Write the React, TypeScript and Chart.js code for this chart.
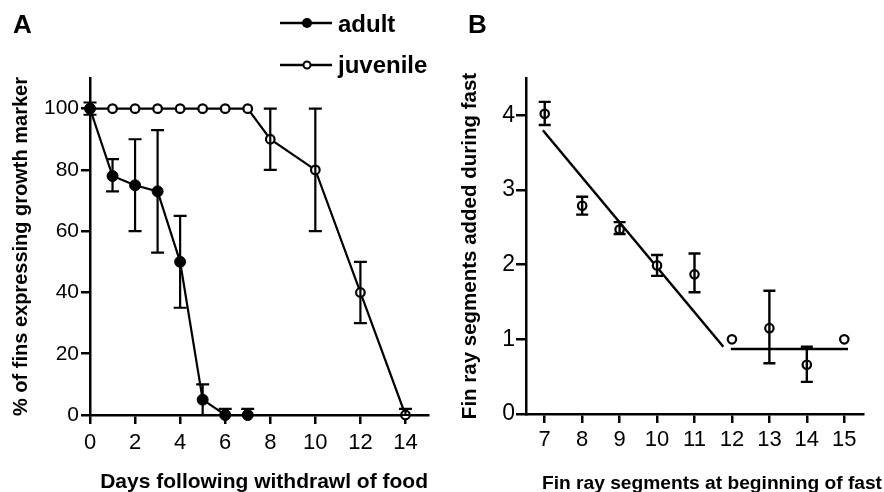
import React, { useEffect, useRef } from 'react';
import { Chart, registerables } from 'chart.js';

Chart.register(...registerables);

// ---------- Panel A data ----------
const daysAdult = [0, 1, 2, 3, 4, 5, 6, 7];
const adultPct = [100, 78, 75, 73, 50, 5, 0, 0];
const adultLow = [98, 73, 60, 53, 35, 0, 0, 0];
const adultHigh = [102, 83.5, 90, 93, 65, 10, 2, 2];

const daysJuvenile = [0, 1, 2, 3, 4, 5, 6, 7, 8, 10, 12, 14];
const juvenilePct = [100, 100, 100, 100, 100, 100, 100, 100, 90, 80, 40, 0];
const juvenileLow = [null, null, null, null, null, null, null, null, 80, 60, 30, 0];
const juvenileHigh = [null, null, null, null, null, null, null, null, 100, 100, 50, 2];

const xTicksA = [0, 2, 4, 6, 8, 10, 12, 14];
const yTicksA = [0, 20, 40, 60, 80, 100];

// ---------- Panel B data ----------
const segmentsStart = [7, 8, 9, 10, 11, 12, 13, 14, 15];
const segmentsAdded = [4.02, 2.79, 2.47, 1.99, 1.87, 1.0, 1.15, 0.66, 1.0];
const addedLow = [3.87, 2.67, 2.41, 1.85, 1.63, null, 0.68, 0.43, null];
const addedHigh = [4.18, 2.91, 2.57, 2.13, 2.15, null, 1.65, 0.9, null];

const fitSteepX = [6.95, 11.77];
const fitSteepY = [3.8, 0.9];
const fitFlatX = [11.97, 15.1];
const fitFlatY = [0.87, 0.87];

const xTicksB = [7, 8, 9, 10, 11, 12, 13, 14, 15];
const yTicksB = [0, 1, 2, 3, 4];

const FAMILY = "'Liberation Sans', Arial, Helvetica, sans-serif";

const pts = (xs: number[], ys: number[]) => xs.map((x, i) => ({ x, y: ys[i] }));

const errorBarPlugin = {
  id: 'errorBars',
  afterDatasetsDraw(chart: any) {
    const ctx = chart.ctx;
    chart.data.datasets.forEach((ds: any, i: number) => {
      if (!ds.errLow) return;
      const meta = chart.getDatasetMeta(i);
      const xs = chart.scales[meta.xAxisID];
      const ys = chart.scales[meta.yAxisID];
      const cap = ds.errCap || 6;
      ds.data.forEach((p: any, j: number) => {
        const lo = ds.errLow[j];
        const hi = ds.errHigh[j];
        if (lo == null || hi == null) return;
        const px = xs.getPixelForValue(p.x);
        const y1 = ys.getPixelForValue(lo);
        const y2 = ys.getPixelForValue(hi);
        ctx.save();
        ctx.strokeStyle = '#000';
        ctx.lineWidth = ds.errWidth || 2;
        ctx.beginPath();
        ctx.moveTo(px, y1);
        ctx.lineTo(px, y2);
        ctx.moveTo(px - cap, y1);
        ctx.lineTo(px + cap, y1);
        ctx.moveTo(px - cap, y2);
        ctx.lineTo(px + cap, y2);
        ctx.stroke();
        ctx.restore();
      });
    });
  },
};

const axisCommon = (ticks: number[], tickLength: number, fontSize: number, pad: number) => ({
  type: 'linear' as const,
  afterBuildTicks: (s: any) => {
    s.ticks = ticks.map((v) => ({ value: v }));
  },
  grid: {
    display: true,
    drawOnChartArea: false,
    drawTicks: true,
    tickLength,
    color: '#000',
    lineWidth: 2.5,
  },
  border: { display: true, color: '#000', width: 2.5 },
  ticks: {
    color: '#000',
    font: { family: FAMILY, size: fontSize },
    padding: pad,
    maxRotation: 0,
    autoSkip: false,
  },
});

export default function App() {
  const refA = useRef<HTMLCanvasElement | null>(null);
  const refB = useRef<HTMLCanvasElement | null>(null);

  useEffect(() => {
    const decorA = {
      id: 'decorA',
      afterDraw(chart: any) {
        const ctx = chart.ctx;
        const area = chart.chartArea;
        ctx.save();
        ctx.fillStyle = '#000';
        ctx.strokeStyle = '#000';
        ctx.font = `bold 26px ${FAMILY}`;
        ctx.textAlign = 'left';
        ctx.textBaseline = 'alphabetic';
        ctx.fillText('A', 13, 33);
        ctx.font = `bold 21px ${FAMILY}`;
        ctx.textAlign = 'right';
        ctx.fillText('Days following withdrawl of food', area.right, 488);
        // legend
        const lx0 = 280;
        const lx1 = 332;
        const mx = 307;
        ctx.lineWidth = 2.4;
        ctx.beginPath();
        ctx.moveTo(lx0, 23);
        ctx.lineTo(lx1, 23);
        ctx.moveTo(lx0, 65);
        ctx.lineTo(lx1, 65);
        ctx.stroke();
        ctx.beginPath();
        ctx.arc(mx, 23, 5, 0, Math.PI * 2);
        ctx.fill();
        ctx.beginPath();
        ctx.arc(mx, 65, 3.5, 0, Math.PI * 2);
        ctx.fillStyle = '#fff';
        ctx.fill();
        ctx.lineWidth = 2;
        ctx.stroke();
        ctx.fillStyle = '#000';
        ctx.font = `bold 24px ${FAMILY}`;
        ctx.textAlign = 'left';
        ctx.fillText('adult', 338, 32);
        ctx.fillText('juvenile', 338, 73);
        ctx.restore();
      },
    };

    const chartA = new Chart(refA.current as HTMLCanvasElement, {
      type: 'line',
      data: {
        datasets: [
          {
            label: 'adult',
            data: pts(daysAdult, adultPct),
            borderColor: '#000',
            borderWidth: 2.2,
            backgroundColor: '#000',
            pointRadius: 5.5,
            pointBorderWidth: 1,
            pointBackgroundColor: '#000',
            clip: false,
            errLow: adultLow,
            errHigh: adultHigh,
            errCap: 6.5,
            errWidth: 2.2,
          } as any,
          {
            label: 'juvenile',
            data: pts(daysJuvenile, juvenilePct),
            borderColor: '#000',
            borderWidth: 2.2,
            backgroundColor: '#fff',
            pointRadius: 4.3,
            pointBorderWidth: 2.2,
            pointBackgroundColor: '#fff',
            clip: false,
            errLow: juvenileLow,
            errHigh: juvenileHigh,
            errCap: 6.5,
            errWidth: 2.2,
          } as any,
        ],
      },
      options: {
        animation: false,
        responsive: false,
        maintainAspectRatio: false,
        layout: { padding: { top: 78, right: 22, left: 0, bottom: 0 } },
        plugins: { legend: { display: false }, tooltip: { enabled: false } },
        scales: {
          x: {
            ...axisCommon(xTicksA, 9, 22, 6),
            min: 0,
            max: 15,
            afterFit: (s: any) => {
              s.height = 77;
            },
          },
          y: {
            ...axisCommon(yTicksA, 9, 21, 2),
            min: 0,
            max: 110,
            afterFit: (s: any) => {
              s.width = 90;
            },
            title: {
              display: true,
              text: '% of fins expressing growth marker',
              color: '#000',
              font: { family: FAMILY, size: 20, weight: 'bold', lineHeight: 1 },
              padding: { top: 11, bottom: 0 },
            },
          },
        },
      } as any,
      plugins: [errorBarPlugin, decorA],
    });

    const decorB = {
      id: 'decorB',
      afterDraw(chart: any) {
        const ctx = chart.ctx;
        ctx.save();
        ctx.fillStyle = '#000';
        ctx.font = `bold 26px ${FAMILY}`;
        ctx.textAlign = 'left';
        ctx.textBaseline = 'alphabetic';
        ctx.fillText('B', 18, 33);
        ctx.font = `bold 19.2px ${FAMILY}`;
        ctx.textAlign = 'right';
        ctx.fillText('Fin ray segments at beginning of fast', chart.width - 2, 489);
        ctx.restore();
      },
    };

    const chartB = new Chart(refB.current as HTMLCanvasElement, {
      type: 'scatter',
      data: {
        datasets: [
          {
            label: 'segments',
            data: pts(segmentsStart, segmentsAdded),
            showLine: false,
            borderColor: '#000',
            backgroundColor: '#fff',
            pointRadius: 4.2,
            pointBorderWidth: 2.2,
            clip: false,
            errLow: addedLow,
            errHigh: addedHigh,
            errCap: 6,
            errWidth: 2.4,
          } as any,
          {
            label: 'fit1',
            data: pts(fitSteepX, fitSteepY),
            showLine: true,
            borderColor: '#000',
            borderWidth: 2.5,
            pointRadius: 0,
            clip: false,
          },
          {
            label: 'fit2',
            data: pts(fitFlatX, fitFlatY),
            showLine: true,
            borderColor: '#000',
            borderWidth: 2.5,
            pointRadius: 0,
            clip: false,
          },
        ],
      },
      options: {
        animation: false,
        responsive: false,
        maintainAspectRatio: false,
        layout: { padding: { top: 78, right: 21, left: 0, bottom: 0 } },
        plugins: { legend: { display: false }, tooltip: { enabled: false } },
        scales: {
          x: {
            ...axisCommon(xTicksB, 9, 22, 4),
            min: 6.5,
            max: 15.5,
            afterFit: (s: any) => {
              s.height = 78;
            },
          },
          y: {
            ...axisCommon(yTicksB, 10, 23, 1),
            min: 0,
            max: 4.5,
            afterFit: (s: any) => {
              s.width = 76;
            },
            title: {
              display: true,
              text: 'Fin ray segments added during fast',
              color: '#000',
              font: { family: FAMILY, size: 20.5, weight: 'bold', lineHeight: 1 },
              padding: { top: 10, bottom: 0 },
            },
          },
        },
      } as any,
      plugins: [errorBarPlugin, decorB],
    });

    return () => {
      chartA.destroy();
      chartB.destroy();
    };
  }, []);

  return (
    <div
      style={{
        position: 'absolute',
        left: 0,
        top: 0,
        width: 884,
        height: 492,
        background: '#fff',
        overflow: 'hidden',
      }}
    >
      <canvas
        ref={refA}
        width={450}
        height={492}
        style={{ position: 'absolute', left: 0, top: 0, width: 450, height: 492, display: 'block' }}
      />
      <canvas
        ref={refB}
        width={434}
        height={492}
        style={{ position: 'absolute', left: 450, top: 0, width: 434, height: 492, display: 'block' }}
      />
    </div>
  );
}
